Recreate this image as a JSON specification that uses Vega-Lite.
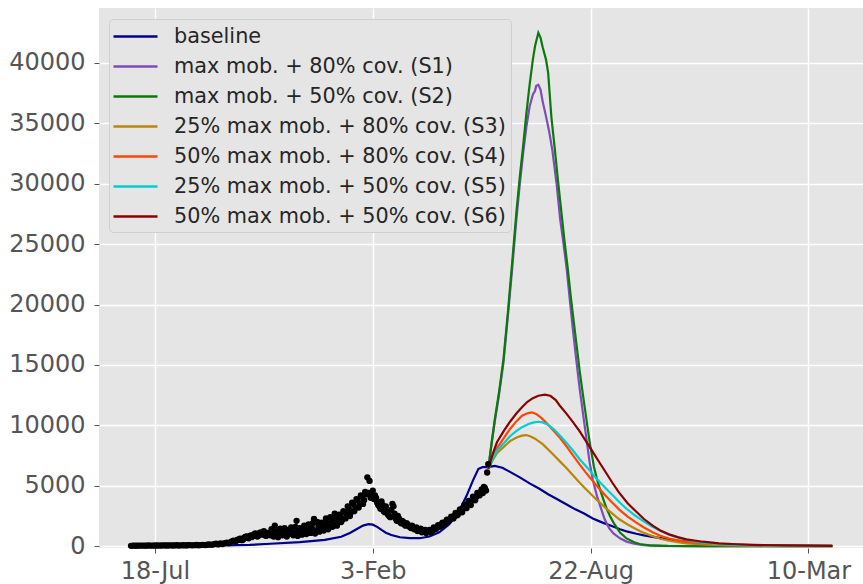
{
  "$schema": "https://vega.github.io/schema/vega-lite/v6.json",
  "width": 764,
  "height": 540,
  "autosize": {"type": "none"},
  "padding": {"left": 99, "top": 8, "right": 0, "bottom": 36},
  "background": "white",
  "config": {
    "view": {"fill": "#e5e5e5", "stroke": null},
    "axis": {
      "gridColor": "white", "gridWidth": 1.4, "domain": false,
      "tickColor": "#555555", "tickSize": 5, "tickWidth": 1,
      "labelColor": "#555555", "labelFont": "DejaVu Sans", "labelFontSize": 24
    }
  },
  "datasets": {
    "series": [
      {"d": "2020-06-26", "s": "baseline", "v": 10},
      {"d": "2020-07-18", "s": "baseline", "v": 15},
      {"d": "2020-08-15", "s": "baseline", "v": 25},
      {"d": "2020-09-10", "s": "baseline", "v": 50},
      {"d": "2020-10-01", "s": "baseline", "v": 80},
      {"d": "2020-10-13", "s": "baseline", "v": 110},
      {"d": "2020-11-01", "s": "baseline", "v": 200},
      {"d": "2020-11-28", "s": "baseline", "v": 340},
      {"d": "2020-12-21", "s": "baseline", "v": 520},
      {"d": "2021-01-05", "s": "baseline", "v": 780},
      {"d": "2021-01-13", "s": "baseline", "v": 1100},
      {"d": "2021-01-19", "s": "baseline", "v": 1400},
      {"d": "2021-01-25", "s": "baseline", "v": 1700},
      {"d": "2021-01-30", "s": "baseline", "v": 1820},
      {"d": "2021-02-03", "s": "baseline", "v": 1780},
      {"d": "2021-02-07", "s": "baseline", "v": 1600},
      {"d": "2021-02-11", "s": "baseline", "v": 1350},
      {"d": "2021-02-15", "s": "baseline", "v": 1120},
      {"d": "2021-02-20", "s": "baseline", "v": 920},
      {"d": "2021-02-28", "s": "baseline", "v": 740},
      {"d": "2021-03-09", "s": "baseline", "v": 660},
      {"d": "2021-03-18", "s": "baseline", "v": 660},
      {"d": "2021-03-27", "s": "baseline", "v": 800},
      {"d": "2021-04-05", "s": "baseline", "v": 1150},
      {"d": "2021-04-14", "s": "baseline", "v": 1800},
      {"d": "2021-04-19", "s": "baseline", "v": 2350},
      {"d": "2021-04-24", "s": "baseline", "v": 3050},
      {"d": "2021-04-30", "s": "baseline", "v": 4150},
      {"d": "2021-05-06", "s": "baseline", "v": 5450},
      {"d": "2021-05-11", "s": "baseline", "v": 6400},
      {"d": "2021-05-15", "s": "baseline", "v": 6550},
      {"d": "2021-05-20", "s": "baseline", "v": 6550},
      {"d": "2021-05-26", "s": "baseline", "v": 6650},
      {"d": "2021-06-02", "s": "baseline", "v": 6500},
      {"d": "2021-06-09", "s": "baseline", "v": 6150},
      {"d": "2021-06-18", "s": "baseline", "v": 5700},
      {"d": "2021-06-27", "s": "baseline", "v": 5200},
      {"d": "2021-07-06", "s": "baseline", "v": 4750},
      {"d": "2021-07-14", "s": "baseline", "v": 4300},
      {"d": "2021-07-22", "s": "baseline", "v": 3900},
      {"d": "2021-07-31", "s": "baseline", "v": 3450},
      {"d": "2021-08-08", "s": "baseline", "v": 3050},
      {"d": "2021-08-16", "s": "baseline", "v": 2700},
      {"d": "2021-08-24", "s": "baseline", "v": 2300},
      {"d": "2021-09-02", "s": "baseline", "v": 1950},
      {"d": "2021-09-11", "s": "baseline", "v": 1650},
      {"d": "2021-09-18", "s": "baseline", "v": 1400},
      {"d": "2021-09-25", "s": "baseline", "v": 1200},
      {"d": "2021-10-03", "s": "baseline", "v": 1030},
      {"d": "2021-10-10", "s": "baseline", "v": 900},
      {"d": "2021-10-18", "s": "baseline", "v": 770},
      {"d": "2021-10-25", "s": "baseline", "v": 670},
      {"d": "2021-11-02", "s": "baseline", "v": 560},
      {"d": "2021-11-10", "s": "baseline", "v": 460},
      {"d": "2021-11-18", "s": "baseline", "v": 380},
      {"d": "2021-12-03", "s": "baseline", "v": 260},
      {"d": "2021-12-18", "s": "baseline", "v": 180},
      {"d": "2022-01-03", "s": "baseline", "v": 120},
      {"d": "2022-01-18", "s": "baseline", "v": 90},
      {"d": "2022-02-18", "s": "baseline", "v": 50},
      {"d": "2022-04-01", "s": "baseline", "v": 30},

      {"d": "2021-05-20", "s": "max mob. + 80% cov. (S1)", "v": 6400},
      {"d": "2021-05-23", "s": "max mob. + 80% cov. (S1)", "v": 8400},
      {"d": "2021-05-26", "s": "max mob. + 80% cov. (S1)", "v": 10300},
      {"d": "2021-05-30", "s": "max mob. + 80% cov. (S1)", "v": 12600},
      {"d": "2021-06-03", "s": "max mob. + 80% cov. (S1)", "v": 15200},
      {"d": "2021-06-07", "s": "max mob. + 80% cov. (S1)", "v": 19000},
      {"d": "2021-06-11", "s": "max mob. + 80% cov. (S1)", "v": 23000},
      {"d": "2021-06-15", "s": "max mob. + 80% cov. (S1)", "v": 27200},
      {"d": "2021-06-18", "s": "max mob. + 80% cov. (S1)", "v": 30000},
      {"d": "2021-06-21", "s": "max mob. + 80% cov. (S1)", "v": 32500},
      {"d": "2021-06-24", "s": "max mob. + 80% cov. (S1)", "v": 34700},
      {"d": "2021-06-27", "s": "max mob. + 80% cov. (S1)", "v": 36400},
      {"d": "2021-06-30", "s": "max mob. + 80% cov. (S1)", "v": 37400},
      {"d": "2021-07-02", "s": "max mob. + 80% cov. (S1)", "v": 37700},
      {"d": "2021-07-03", "s": "max mob. + 80% cov. (S1)", "v": 38100},
      {"d": "2021-07-05", "s": "max mob. + 80% cov. (S1)", "v": 38200},
      {"d": "2021-07-07", "s": "max mob. + 80% cov. (S1)", "v": 37800},
      {"d": "2021-07-09", "s": "max mob. + 80% cov. (S1)", "v": 36800},
      {"d": "2021-07-12", "s": "max mob. + 80% cov. (S1)", "v": 35600},
      {"d": "2021-07-15", "s": "max mob. + 80% cov. (S1)", "v": 34300},
      {"d": "2021-07-18", "s": "max mob. + 80% cov. (S1)", "v": 32700},
      {"d": "2021-07-22", "s": "max mob. + 80% cov. (S1)", "v": 29800},
      {"d": "2021-07-25", "s": "max mob. + 80% cov. (S1)", "v": 27100},
      {"d": "2021-07-28", "s": "max mob. + 80% cov. (S1)", "v": 25100},
      {"d": "2021-07-31", "s": "max mob. + 80% cov. (S1)", "v": 23000},
      {"d": "2021-08-03", "s": "max mob. + 80% cov. (S1)", "v": 20300},
      {"d": "2021-08-06", "s": "max mob. + 80% cov. (S1)", "v": 17700},
      {"d": "2021-08-09", "s": "max mob. + 80% cov. (S1)", "v": 15300},
      {"d": "2021-08-12", "s": "max mob. + 80% cov. (S1)", "v": 13000},
      {"d": "2021-08-15", "s": "max mob. + 80% cov. (S1)", "v": 11000},
      {"d": "2021-08-18", "s": "max mob. + 80% cov. (S1)", "v": 9000},
      {"d": "2021-08-21", "s": "max mob. + 80% cov. (S1)", "v": 7000},
      {"d": "2021-08-24", "s": "max mob. + 80% cov. (S1)", "v": 5500},
      {"d": "2021-08-28", "s": "max mob. + 80% cov. (S1)", "v": 4100},
      {"d": "2021-09-01", "s": "max mob. + 80% cov. (S1)", "v": 3000},
      {"d": "2021-09-04", "s": "max mob. + 80% cov. (S1)", "v": 2200},
      {"d": "2021-09-08", "s": "max mob. + 80% cov. (S1)", "v": 1500},
      {"d": "2021-09-12", "s": "max mob. + 80% cov. (S1)", "v": 1050},
      {"d": "2021-09-18", "s": "max mob. + 80% cov. (S1)", "v": 650},
      {"d": "2021-09-24", "s": "max mob. + 80% cov. (S1)", "v": 380},
      {"d": "2021-10-01", "s": "max mob. + 80% cov. (S1)", "v": 200},
      {"d": "2021-10-10", "s": "max mob. + 80% cov. (S1)", "v": 80},
      {"d": "2021-10-25", "s": "max mob. + 80% cov. (S1)", "v": 25},
      {"d": "2021-12-01", "s": "max mob. + 80% cov. (S1)", "v": 5},
      {"d": "2022-04-01", "s": "max mob. + 80% cov. (S1)", "v": 0},

      {"d": "2021-05-20", "s": "max mob. + 50% cov. (S2)", "v": 6400},
      {"d": "2021-05-23", "s": "max mob. + 50% cov. (S2)", "v": 8500},
      {"d": "2021-05-26", "s": "max mob. + 50% cov. (S2)", "v": 10500},
      {"d": "2021-05-30", "s": "max mob. + 50% cov. (S2)", "v": 12800},
      {"d": "2021-06-03", "s": "max mob. + 50% cov. (S2)", "v": 15500},
      {"d": "2021-06-07", "s": "max mob. + 50% cov. (S2)", "v": 19300},
      {"d": "2021-06-11", "s": "max mob. + 50% cov. (S2)", "v": 23500},
      {"d": "2021-06-15", "s": "max mob. + 50% cov. (S2)", "v": 27800},
      {"d": "2021-06-18", "s": "max mob. + 50% cov. (S2)", "v": 30600},
      {"d": "2021-06-21", "s": "max mob. + 50% cov. (S2)", "v": 33100},
      {"d": "2021-06-24", "s": "max mob. + 50% cov. (S2)", "v": 35800},
      {"d": "2021-06-27", "s": "max mob. + 50% cov. (S2)", "v": 38200},
      {"d": "2021-06-30", "s": "max mob. + 50% cov. (S2)", "v": 40300},
      {"d": "2021-07-02", "s": "max mob. + 50% cov. (S2)", "v": 41400},
      {"d": "2021-07-05", "s": "max mob. + 50% cov. (S2)", "v": 42500},
      {"d": "2021-07-07", "s": "max mob. + 50% cov. (S2)", "v": 42100},
      {"d": "2021-07-09", "s": "max mob. + 50% cov. (S2)", "v": 41300},
      {"d": "2021-07-12", "s": "max mob. + 50% cov. (S2)", "v": 40300},
      {"d": "2021-07-14", "s": "max mob. + 50% cov. (S2)", "v": 39200},
      {"d": "2021-07-17", "s": "max mob. + 50% cov. (S2)", "v": 35500},
      {"d": "2021-07-20", "s": "max mob. + 50% cov. (S2)", "v": 33000},
      {"d": "2021-07-23", "s": "max mob. + 50% cov. (S2)", "v": 30300},
      {"d": "2021-07-26", "s": "max mob. + 50% cov. (S2)", "v": 27800},
      {"d": "2021-07-29", "s": "max mob. + 50% cov. (S2)", "v": 25300},
      {"d": "2021-08-01", "s": "max mob. + 50% cov. (S2)", "v": 23000},
      {"d": "2021-08-04", "s": "max mob. + 50% cov. (S2)", "v": 20500},
      {"d": "2021-08-08", "s": "max mob. + 50% cov. (S2)", "v": 17500},
      {"d": "2021-08-12", "s": "max mob. + 50% cov. (S2)", "v": 14500},
      {"d": "2021-08-15", "s": "max mob. + 50% cov. (S2)", "v": 12500},
      {"d": "2021-08-18", "s": "max mob. + 50% cov. (S2)", "v": 10600},
      {"d": "2021-08-21", "s": "max mob. + 50% cov. (S2)", "v": 8700},
      {"d": "2021-08-25", "s": "max mob. + 50% cov. (S2)", "v": 6600},
      {"d": "2021-08-28", "s": "max mob. + 50% cov. (S2)", "v": 5500},
      {"d": "2021-08-31", "s": "max mob. + 50% cov. (S2)", "v": 4600},
      {"d": "2021-09-03", "s": "max mob. + 50% cov. (S2)", "v": 3800},
      {"d": "2021-09-06", "s": "max mob. + 50% cov. (S2)", "v": 3050},
      {"d": "2021-09-09", "s": "max mob. + 50% cov. (S2)", "v": 2450},
      {"d": "2021-09-12", "s": "max mob. + 50% cov. (S2)", "v": 1950},
      {"d": "2021-09-18", "s": "max mob. + 50% cov. (S2)", "v": 1130},
      {"d": "2021-09-24", "s": "max mob. + 50% cov. (S2)", "v": 640},
      {"d": "2021-10-01", "s": "max mob. + 50% cov. (S2)", "v": 320},
      {"d": "2021-10-06", "s": "max mob. + 50% cov. (S2)", "v": 180},
      {"d": "2021-10-15", "s": "max mob. + 50% cov. (S2)", "v": 70},
      {"d": "2021-11-01", "s": "max mob. + 50% cov. (S2)", "v": 20},
      {"d": "2021-12-01", "s": "max mob. + 50% cov. (S2)", "v": 5},
      {"d": "2022-04-01", "s": "max mob. + 50% cov. (S2)", "v": 0},

      {"d": "2021-05-20", "s": "25% max mob. + 80% cov. (S3)", "v": 6400},
      {"d": "2021-05-24", "s": "25% max mob. + 80% cov. (S3)", "v": 7100},
      {"d": "2021-05-28", "s": "25% max mob. + 80% cov. (S3)", "v": 7700},
      {"d": "2021-06-03", "s": "25% max mob. + 80% cov. (S3)", "v": 8200},
      {"d": "2021-06-09", "s": "25% max mob. + 80% cov. (S3)", "v": 8700},
      {"d": "2021-06-15", "s": "25% max mob. + 80% cov. (S3)", "v": 9000},
      {"d": "2021-06-20", "s": "25% max mob. + 80% cov. (S3)", "v": 9150},
      {"d": "2021-06-24", "s": "25% max mob. + 80% cov. (S3)", "v": 9200},
      {"d": "2021-06-28", "s": "25% max mob. + 80% cov. (S3)", "v": 9080},
      {"d": "2021-07-02", "s": "25% max mob. + 80% cov. (S3)", "v": 8900},
      {"d": "2021-07-09", "s": "25% max mob. + 80% cov. (S3)", "v": 8450},
      {"d": "2021-07-18", "s": "25% max mob. + 80% cov. (S3)", "v": 7650},
      {"d": "2021-07-25", "s": "25% max mob. + 80% cov. (S3)", "v": 7000},
      {"d": "2021-07-31", "s": "25% max mob. + 80% cov. (S3)", "v": 6450},
      {"d": "2021-08-06", "s": "25% max mob. + 80% cov. (S3)", "v": 5850},
      {"d": "2021-08-12", "s": "25% max mob. + 80% cov. (S3)", "v": 5250},
      {"d": "2021-08-18", "s": "25% max mob. + 80% cov. (S3)", "v": 4700},
      {"d": "2021-08-24", "s": "25% max mob. + 80% cov. (S3)", "v": 4150},
      {"d": "2021-08-30", "s": "25% max mob. + 80% cov. (S3)", "v": 3650},
      {"d": "2021-09-05", "s": "25% max mob. + 80% cov. (S3)", "v": 3150},
      {"d": "2021-09-11", "s": "25% max mob. + 80% cov. (S3)", "v": 2700},
      {"d": "2021-09-17", "s": "25% max mob. + 80% cov. (S3)", "v": 2250},
      {"d": "2021-09-25", "s": "25% max mob. + 80% cov. (S3)", "v": 1800},
      {"d": "2021-10-03", "s": "25% max mob. + 80% cov. (S3)", "v": 1400},
      {"d": "2021-10-10", "s": "25% max mob. + 80% cov. (S3)", "v": 1100},
      {"d": "2021-10-18", "s": "25% max mob. + 80% cov. (S3)", "v": 830},
      {"d": "2021-10-25", "s": "25% max mob. + 80% cov. (S3)", "v": 620},
      {"d": "2021-11-02", "s": "25% max mob. + 80% cov. (S3)", "v": 450},
      {"d": "2021-11-10", "s": "25% max mob. + 80% cov. (S3)", "v": 330},
      {"d": "2021-11-18", "s": "25% max mob. + 80% cov. (S3)", "v": 240},
      {"d": "2021-12-03", "s": "25% max mob. + 80% cov. (S3)", "v": 140},
      {"d": "2021-12-18", "s": "25% max mob. + 80% cov. (S3)", "v": 80},
      {"d": "2022-01-15", "s": "25% max mob. + 80% cov. (S3)", "v": 30},
      {"d": "2022-02-15", "s": "25% max mob. + 80% cov. (S3)", "v": 12},
      {"d": "2022-04-01", "s": "25% max mob. + 80% cov. (S3)", "v": 5},

      {"d": "2021-05-20", "s": "50% max mob. + 80% cov. (S4)", "v": 6400},
      {"d": "2021-05-24", "s": "50% max mob. + 80% cov. (S4)", "v": 7300},
      {"d": "2021-05-28", "s": "50% max mob. + 80% cov. (S4)", "v": 8100},
      {"d": "2021-06-03", "s": "50% max mob. + 80% cov. (S4)", "v": 8900},
      {"d": "2021-06-09", "s": "50% max mob. + 80% cov. (S4)", "v": 9700},
      {"d": "2021-06-15", "s": "50% max mob. + 80% cov. (S4)", "v": 10350},
      {"d": "2021-06-20", "s": "50% max mob. + 80% cov. (S4)", "v": 10800},
      {"d": "2021-06-25", "s": "50% max mob. + 80% cov. (S4)", "v": 11000},
      {"d": "2021-06-29", "s": "50% max mob. + 80% cov. (S4)", "v": 11080},
      {"d": "2021-07-03", "s": "50% max mob. + 80% cov. (S4)", "v": 10950},
      {"d": "2021-07-08", "s": "50% max mob. + 80% cov. (S4)", "v": 10600},
      {"d": "2021-07-13", "s": "50% max mob. + 80% cov. (S4)", "v": 10150},
      {"d": "2021-07-18", "s": "50% max mob. + 80% cov. (S4)", "v": 9650},
      {"d": "2021-07-25", "s": "50% max mob. + 80% cov. (S4)", "v": 8950},
      {"d": "2021-07-31", "s": "50% max mob. + 80% cov. (S4)", "v": 8250},
      {"d": "2021-08-06", "s": "50% max mob. + 80% cov. (S4)", "v": 7500},
      {"d": "2021-08-12", "s": "50% max mob. + 80% cov. (S4)", "v": 6750},
      {"d": "2021-08-18", "s": "50% max mob. + 80% cov. (S4)", "v": 6050},
      {"d": "2021-08-24", "s": "50% max mob. + 80% cov. (S4)", "v": 5400},
      {"d": "2021-08-30", "s": "50% max mob. + 80% cov. (S4)", "v": 4750},
      {"d": "2021-09-05", "s": "50% max mob. + 80% cov. (S4)", "v": 4150},
      {"d": "2021-09-11", "s": "50% max mob. + 80% cov. (S4)", "v": 3600},
      {"d": "2021-09-17", "s": "50% max mob. + 80% cov. (S4)", "v": 3050},
      {"d": "2021-09-25", "s": "50% max mob. + 80% cov. (S4)", "v": 2450},
      {"d": "2021-10-03", "s": "50% max mob. + 80% cov. (S4)", "v": 1950},
      {"d": "2021-10-10", "s": "50% max mob. + 80% cov. (S4)", "v": 1550},
      {"d": "2021-10-18", "s": "50% max mob. + 80% cov. (S4)", "v": 1150},
      {"d": "2021-10-25", "s": "50% max mob. + 80% cov. (S4)", "v": 870},
      {"d": "2021-11-02", "s": "50% max mob. + 80% cov. (S4)", "v": 640},
      {"d": "2021-11-10", "s": "50% max mob. + 80% cov. (S4)", "v": 480},
      {"d": "2021-11-18", "s": "50% max mob. + 80% cov. (S4)", "v": 360},
      {"d": "2021-12-03", "s": "50% max mob. + 80% cov. (S4)", "v": 230},
      {"d": "2021-12-18", "s": "50% max mob. + 80% cov. (S4)", "v": 160},
      {"d": "2022-01-18", "s": "50% max mob. + 80% cov. (S4)", "v": 90},
      {"d": "2022-02-18", "s": "50% max mob. + 80% cov. (S4)", "v": 55},
      {"d": "2022-04-01", "s": "50% max mob. + 80% cov. (S4)", "v": 30},

      {"d": "2021-05-20", "s": "25% max mob. + 50% cov. (S5)", "v": 6400},
      {"d": "2021-05-24", "s": "25% max mob. + 50% cov. (S5)", "v": 7200},
      {"d": "2021-05-28", "s": "25% max mob. + 50% cov. (S5)", "v": 7900},
      {"d": "2021-06-03", "s": "25% max mob. + 50% cov. (S5)", "v": 8500},
      {"d": "2021-06-09", "s": "25% max mob. + 50% cov. (S5)", "v": 9100},
      {"d": "2021-06-15", "s": "25% max mob. + 50% cov. (S5)", "v": 9550},
      {"d": "2021-06-20", "s": "25% max mob. + 50% cov. (S5)", "v": 9850},
      {"d": "2021-06-27", "s": "25% max mob. + 50% cov. (S5)", "v": 10150},
      {"d": "2021-07-01", "s": "25% max mob. + 50% cov. (S5)", "v": 10250},
      {"d": "2021-07-05", "s": "25% max mob. + 50% cov. (S5)", "v": 10300},
      {"d": "2021-07-09", "s": "25% max mob. + 50% cov. (S5)", "v": 10250},
      {"d": "2021-07-13", "s": "25% max mob. + 50% cov. (S5)", "v": 10100},
      {"d": "2021-07-19", "s": "25% max mob. + 50% cov. (S5)", "v": 9700},
      {"d": "2021-07-25", "s": "25% max mob. + 50% cov. (S5)", "v": 9150},
      {"d": "2021-07-31", "s": "25% max mob. + 50% cov. (S5)", "v": 8550},
      {"d": "2021-08-06", "s": "25% max mob. + 50% cov. (S5)", "v": 7900},
      {"d": "2021-08-12", "s": "25% max mob. + 50% cov. (S5)", "v": 7200},
      {"d": "2021-08-19", "s": "25% max mob. + 50% cov. (S5)", "v": 6500},
      {"d": "2021-08-25", "s": "25% max mob. + 50% cov. (S5)", "v": 5850},
      {"d": "2021-08-31", "s": "25% max mob. + 50% cov. (S5)", "v": 5250},
      {"d": "2021-09-06", "s": "25% max mob. + 50% cov. (S5)", "v": 4700},
      {"d": "2021-09-12", "s": "25% max mob. + 50% cov. (S5)", "v": 4150},
      {"d": "2021-09-18", "s": "25% max mob. + 50% cov. (S5)", "v": 3600},
      {"d": "2021-09-24", "s": "25% max mob. + 50% cov. (S5)", "v": 3100},
      {"d": "2021-10-01", "s": "25% max mob. + 50% cov. (S5)", "v": 2600},
      {"d": "2021-10-09", "s": "25% max mob. + 50% cov. (S5)", "v": 2100},
      {"d": "2021-10-17", "s": "25% max mob. + 50% cov. (S5)", "v": 1650},
      {"d": "2021-10-25", "s": "25% max mob. + 50% cov. (S5)", "v": 1270},
      {"d": "2021-11-02", "s": "25% max mob. + 50% cov. (S5)", "v": 960},
      {"d": "2021-11-10", "s": "25% max mob. + 50% cov. (S5)", "v": 720},
      {"d": "2021-11-18", "s": "25% max mob. + 50% cov. (S5)", "v": 530},
      {"d": "2021-11-25", "s": "25% max mob. + 50% cov. (S5)", "v": 400},
      {"d": "2021-12-03", "s": "25% max mob. + 50% cov. (S5)", "v": 300},
      {"d": "2021-12-18", "s": "25% max mob. + 50% cov. (S5)", "v": 170},
      {"d": "2022-01-03", "s": "25% max mob. + 50% cov. (S5)", "v": 110},
      {"d": "2022-01-18", "s": "25% max mob. + 50% cov. (S5)", "v": 75},
      {"d": "2022-02-18", "s": "25% max mob. + 50% cov. (S5)", "v": 40},
      {"d": "2022-04-01", "s": "25% max mob. + 50% cov. (S5)", "v": 20},

      {"d": "2021-05-20", "s": "50% max mob. + 50% cov. (S6)", "v": 6400},
      {"d": "2021-05-24", "s": "50% max mob. + 50% cov. (S6)", "v": 7600},
      {"d": "2021-05-28", "s": "50% max mob. + 50% cov. (S6)", "v": 8600},
      {"d": "2021-06-03", "s": "50% max mob. + 50% cov. (S6)", "v": 9500},
      {"d": "2021-06-09", "s": "50% max mob. + 50% cov. (S6)", "v": 10300},
      {"d": "2021-06-15", "s": "50% max mob. + 50% cov. (S6)", "v": 11000},
      {"d": "2021-06-20", "s": "50% max mob. + 50% cov. (S6)", "v": 11500},
      {"d": "2021-06-25", "s": "50% max mob. + 50% cov. (S6)", "v": 11950},
      {"d": "2021-06-30", "s": "50% max mob. + 50% cov. (S6)", "v": 12250},
      {"d": "2021-07-05", "s": "50% max mob. + 50% cov. (S6)", "v": 12450},
      {"d": "2021-07-11", "s": "50% max mob. + 50% cov. (S6)", "v": 12550},
      {"d": "2021-07-16", "s": "50% max mob. + 50% cov. (S6)", "v": 12450},
      {"d": "2021-07-21", "s": "50% max mob. + 50% cov. (S6)", "v": 12100},
      {"d": "2021-07-25", "s": "50% max mob. + 50% cov. (S6)", "v": 11600},
      {"d": "2021-07-31", "s": "50% max mob. + 50% cov. (S6)", "v": 10950},
      {"d": "2021-08-06", "s": "50% max mob. + 50% cov. (S6)", "v": 10250},
      {"d": "2021-08-12", "s": "50% max mob. + 50% cov. (S6)", "v": 9500},
      {"d": "2021-08-18", "s": "50% max mob. + 50% cov. (S6)", "v": 8650},
      {"d": "2021-08-24", "s": "50% max mob. + 50% cov. (S6)", "v": 7800},
      {"d": "2021-08-30", "s": "50% max mob. + 50% cov. (S6)", "v": 6950},
      {"d": "2021-09-05", "s": "50% max mob. + 50% cov. (S6)", "v": 6100},
      {"d": "2021-09-11", "s": "50% max mob. + 50% cov. (S6)", "v": 5250},
      {"d": "2021-09-17", "s": "50% max mob. + 50% cov. (S6)", "v": 4450},
      {"d": "2021-09-25", "s": "50% max mob. + 50% cov. (S6)", "v": 3550},
      {"d": "2021-10-03", "s": "50% max mob. + 50% cov. (S6)", "v": 2850},
      {"d": "2021-10-10", "s": "50% max mob. + 50% cov. (S6)", "v": 2250},
      {"d": "2021-10-18", "s": "50% max mob. + 50% cov. (S6)", "v": 1700},
      {"d": "2021-10-25", "s": "50% max mob. + 50% cov. (S6)", "v": 1300},
      {"d": "2021-11-02", "s": "50% max mob. + 50% cov. (S6)", "v": 980},
      {"d": "2021-11-10", "s": "50% max mob. + 50% cov. (S6)", "v": 750},
      {"d": "2021-11-18", "s": "50% max mob. + 50% cov. (S6)", "v": 570},
      {"d": "2021-12-03", "s": "50% max mob. + 50% cov. (S6)", "v": 370},
      {"d": "2021-12-18", "s": "50% max mob. + 50% cov. (S6)", "v": 240},
      {"d": "2022-01-03", "s": "50% max mob. + 50% cov. (S6)", "v": 160},
      {"d": "2022-01-18", "s": "50% max mob. + 50% cov. (S6)", "v": 110},
      {"d": "2022-02-18", "s": "50% max mob. + 50% cov. (S6)", "v": 65},
      {"d": "2022-04-01", "s": "50% max mob. + 50% cov. (S6)", "v": 25}
    ],
    "cases": [
      {"d": "2020-06-26", "v": 30}, {"d": "2020-06-28", "v": 40}, {"d": "2020-06-30", "v": 35},
      {"d": "2020-07-02", "v": 45}, {"d": "2020-07-04", "v": 40}, {"d": "2020-07-06", "v": 50},
      {"d": "2020-07-08", "v": 45}, {"d": "2020-07-10", "v": 40}, {"d": "2020-07-12", "v": 55},
      {"d": "2020-07-14", "v": 50}, {"d": "2020-07-16", "v": 45}, {"d": "2020-07-18", "v": 60},
      {"d": "2020-07-20", "v": 55}, {"d": "2020-07-22", "v": 50}, {"d": "2020-07-24", "v": 60},
      {"d": "2020-07-26", "v": 65}, {"d": "2020-07-28", "v": 55}, {"d": "2020-07-30", "v": 60},
      {"d": "2020-08-01", "v": 70}, {"d": "2020-08-03", "v": 60}, {"d": "2020-08-05", "v": 65},
      {"d": "2020-08-07", "v": 75}, {"d": "2020-08-09", "v": 60}, {"d": "2020-08-11", "v": 70},
      {"d": "2020-08-13", "v": 80}, {"d": "2020-08-15", "v": 65}, {"d": "2020-08-17", "v": 75},
      {"d": "2020-08-19", "v": 90}, {"d": "2020-08-21", "v": 70}, {"d": "2020-08-23", "v": 85},
      {"d": "2020-08-25", "v": 100}, {"d": "2020-08-27", "v": 80}, {"d": "2020-08-29", "v": 95},
      {"d": "2020-08-31", "v": 110}, {"d": "2020-09-02", "v": 90}, {"d": "2020-09-04", "v": 120},
      {"d": "2020-09-06", "v": 140}, {"d": "2020-09-08", "v": 110}, {"d": "2020-09-10", "v": 160},
      {"d": "2020-09-12", "v": 200}, {"d": "2020-09-14", "v": 150}, {"d": "2020-09-16", "v": 220},
      {"d": "2020-09-18", "v": 180}, {"d": "2020-09-20", "v": 260}, {"d": "2020-09-22", "v": 300},
      {"d": "2020-09-24", "v": 250}, {"d": "2020-09-26", "v": 380}, {"d": "2020-09-28", "v": 450},
      {"d": "2020-09-30", "v": 400}, {"d": "2020-10-02", "v": 550}, {"d": "2020-10-04", "v": 620},
      {"d": "2020-10-06", "v": 500}, {"d": "2020-10-08", "v": 700}, {"d": "2020-10-10", "v": 800},
      {"d": "2020-10-12", "v": 650}, {"d": "2020-10-14", "v": 900}, {"d": "2020-10-16", "v": 850},
      {"d": "2020-10-18", "v": 1050}, {"d": "2020-10-20", "v": 800}, {"d": "2020-10-22", "v": 1100},
      {"d": "2020-10-24", "v": 950}, {"d": "2020-10-26", "v": 1250}, {"d": "2020-10-28", "v": 850},
      {"d": "2020-10-30", "v": 1000}, {"d": "2020-11-01", "v": 900}, {"d": "2020-11-03", "v": 1150},
      {"d": "2020-11-05", "v": 1700}, {"d": "2020-11-07", "v": 950}, {"d": "2020-11-09", "v": 1100},
      {"d": "2020-11-11", "v": 1000}, {"d": "2020-11-13", "v": 1200}, {"d": "2020-11-15", "v": 900},
      {"d": "2020-11-17", "v": 1050}, {"d": "2020-11-19", "v": 1250}, {"d": "2020-11-21", "v": 1000},
      {"d": "2020-11-23", "v": 1150}, {"d": "2020-11-25", "v": 2100}, {"d": "2020-11-27", "v": 1300},
      {"d": "2020-11-29", "v": 1050}, {"d": "2020-12-01", "v": 1250}, {"d": "2020-12-03", "v": 1400},
      {"d": "2020-12-05", "v": 1150}, {"d": "2020-12-07", "v": 1350}, {"d": "2020-12-09", "v": 1500},
      {"d": "2020-12-11", "v": 2250}, {"d": "2020-12-13", "v": 1250}, {"d": "2020-12-15", "v": 1600},
      {"d": "2020-12-17", "v": 1400}, {"d": "2020-12-19", "v": 1700}, {"d": "2020-12-21", "v": 1500},
      {"d": "2020-12-23", "v": 1900}, {"d": "2020-12-25", "v": 1600}, {"d": "2020-12-27", "v": 2100},
      {"d": "2020-12-29", "v": 1800}, {"d": "2020-12-31", "v": 2300}, {"d": "2021-01-02", "v": 2000},
      {"d": "2021-01-04", "v": 2500}, {"d": "2021-01-06", "v": 2200}, {"d": "2021-01-08", "v": 2800},
      {"d": "2021-01-10", "v": 2600}, {"d": "2021-01-12", "v": 3100}, {"d": "2021-01-14", "v": 2800},
      {"d": "2021-01-16", "v": 3500}, {"d": "2021-01-18", "v": 3200}, {"d": "2021-01-20", "v": 3800},
      {"d": "2021-01-22", "v": 3500}, {"d": "2021-01-24", "v": 4100}, {"d": "2021-01-26", "v": 3800},
      {"d": "2021-01-28", "v": 4300}, {"d": "2021-01-29", "v": 5700}, {"d": "2021-01-31", "v": 5400},
      {"d": "2021-02-01", "v": 4000}, {"d": "2021-02-03", "v": 4600}, {"d": "2021-02-05", "v": 4200},
      {"d": "2021-02-07", "v": 3600}, {"d": "2021-02-09", "v": 3300}, {"d": "2021-02-11", "v": 3700},
      {"d": "2021-02-13", "v": 2900}, {"d": "2021-02-15", "v": 3300}, {"d": "2021-02-17", "v": 2600},
      {"d": "2021-02-19", "v": 2400}, {"d": "2021-02-21", "v": 3500}, {"d": "2021-02-23", "v": 2700},
      {"d": "2021-02-25", "v": 2100}, {"d": "2021-02-27", "v": 2300}, {"d": "2021-03-01", "v": 1900},
      {"d": "2021-03-03", "v": 2000}, {"d": "2021-03-05", "v": 1700}, {"d": "2021-03-07", "v": 1800},
      {"d": "2021-03-09", "v": 1600}, {"d": "2021-03-11", "v": 1700}, {"d": "2021-03-13", "v": 1400},
      {"d": "2021-03-15", "v": 1550}, {"d": "2021-03-17", "v": 1300}, {"d": "2021-03-19", "v": 1450},
      {"d": "2021-03-21", "v": 1200}, {"d": "2021-03-23", "v": 1350}, {"d": "2021-03-25", "v": 1150},
      {"d": "2021-03-27", "v": 1350}, {"d": "2021-03-29", "v": 1250}, {"d": "2021-03-31", "v": 1550},
      {"d": "2021-04-02", "v": 1450}, {"d": "2021-04-04", "v": 1750}, {"d": "2021-04-06", "v": 1650},
      {"d": "2021-04-08", "v": 1950}, {"d": "2021-04-10", "v": 1850}, {"d": "2021-04-12", "v": 2200},
      {"d": "2021-04-14", "v": 2100}, {"d": "2021-04-16", "v": 2450}, {"d": "2021-04-18", "v": 2300},
      {"d": "2021-04-20", "v": 2750}, {"d": "2021-04-22", "v": 2600}, {"d": "2021-04-24", "v": 3050},
      {"d": "2021-04-26", "v": 2800}, {"d": "2021-04-28", "v": 3400}, {"d": "2021-04-30", "v": 3150},
      {"d": "2021-05-02", "v": 3750}, {"d": "2021-05-04", "v": 3400}, {"d": "2021-05-06", "v": 4100},
      {"d": "2021-05-08", "v": 3800}, {"d": "2021-05-10", "v": 4400}, {"d": "2021-05-12", "v": 4200},
      {"d": "2021-05-14", "v": 4700}, {"d": "2021-05-16", "v": 4900}, {"d": "2021-05-18", "v": 4600},
      {"d": "2021-05-19", "v": 6100}, {"d": "2021-05-20", "v": 6800},
      {"d": "2020-10-01", "v": 480}, {"d": "2020-10-03", "v": 520}, {"d": "2020-10-05", "v": 600},
      {"d": "2020-10-07", "v": 560}, {"d": "2020-10-09", "v": 760}, {"d": "2020-10-11", "v": 700},
      {"d": "2020-10-13", "v": 820}, {"d": "2020-10-15", "v": 760}, {"d": "2020-10-17", "v": 980},
      {"d": "2020-10-19", "v": 900}, {"d": "2020-10-21", "v": 870}, {"d": "2020-10-23", "v": 1150},
      {"d": "2020-10-25", "v": 1000}, {"d": "2020-10-27", "v": 900}, {"d": "2020-10-29", "v": 1100},
      {"d": "2020-10-31", "v": 950}, {"d": "2020-11-02", "v": 1400}, {"d": "2020-11-04", "v": 800},
      {"d": "2020-11-06", "v": 1250}, {"d": "2020-11-08", "v": 750}, {"d": "2020-11-10", "v": 1450},
      {"d": "2020-11-12", "v": 900}, {"d": "2020-11-14", "v": 1500}, {"d": "2020-11-16", "v": 800},
      {"d": "2020-11-18", "v": 1350}, {"d": "2020-11-20", "v": 1550}, {"d": "2020-11-22", "v": 900},
      {"d": "2020-11-24", "v": 1600}, {"d": "2020-11-26", "v": 850}, {"d": "2020-11-28", "v": 1500},
      {"d": "2020-11-30", "v": 950}, {"d": "2020-12-02", "v": 1700}, {"d": "2020-12-04", "v": 1000},
      {"d": "2020-12-06", "v": 1800}, {"d": "2020-12-08", "v": 1100}, {"d": "2020-12-10", "v": 1900},
      {"d": "2020-12-12", "v": 1050}, {"d": "2020-12-14", "v": 2000}, {"d": "2020-12-16", "v": 1200},
      {"d": "2020-12-18", "v": 1950}, {"d": "2020-12-20", "v": 1300}, {"d": "2020-12-22", "v": 2300},
      {"d": "2020-12-24", "v": 1400}, {"d": "2020-12-26", "v": 2400}, {"d": "2020-12-28", "v": 1600},
      {"d": "2020-12-30", "v": 2700}, {"d": "2021-01-01", "v": 1700}, {"d": "2021-01-03", "v": 2600},
      {"d": "2021-01-05", "v": 2000}, {"d": "2021-01-07", "v": 2900}, {"d": "2021-01-09", "v": 2300},
      {"d": "2021-01-11", "v": 3300}, {"d": "2021-01-13", "v": 2500}, {"d": "2021-01-15", "v": 3600},
      {"d": "2021-01-17", "v": 2900}, {"d": "2021-01-19", "v": 3900}, {"d": "2021-01-21", "v": 3200},
      {"d": "2021-01-23", "v": 4200}, {"d": "2021-01-25", "v": 3500}, {"d": "2021-01-27", "v": 4500},
      {"d": "2021-01-30", "v": 4400}, {"d": "2021-02-02", "v": 4300}, {"d": "2021-02-04", "v": 3900},
      {"d": "2021-02-06", "v": 4000}, {"d": "2021-02-08", "v": 3400}, {"d": "2021-02-10", "v": 3100},
      {"d": "2021-02-12", "v": 3400}, {"d": "2021-02-14", "v": 2800}, {"d": "2021-02-16", "v": 2900},
      {"d": "2021-02-18", "v": 2500}, {"d": "2021-02-20", "v": 3000}, {"d": "2021-02-22", "v": 3300},
      {"d": "2021-02-24", "v": 2300}, {"d": "2021-02-26", "v": 2500}, {"d": "2021-02-28", "v": 2000},
      {"d": "2021-03-02", "v": 2100}, {"d": "2021-03-04", "v": 1800}, {"d": "2021-03-06", "v": 1900},
      {"d": "2021-03-08", "v": 1650}, {"d": "2021-03-10", "v": 1500}, {"d": "2021-03-12", "v": 1550},
      {"d": "2021-03-14", "v": 1450}, {"d": "2021-03-16", "v": 1250}, {"d": "2021-03-18", "v": 1350},
      {"d": "2021-03-20", "v": 1150}, {"d": "2021-03-22", "v": 1250}, {"d": "2021-03-24", "v": 1100},
      {"d": "2021-03-26", "v": 1200}, {"d": "2021-03-28", "v": 1150}, {"d": "2021-03-30", "v": 1300},
      {"d": "2021-04-01", "v": 1400}, {"d": "2021-04-03", "v": 1550}, {"d": "2021-04-05", "v": 1600},
      {"d": "2021-04-07", "v": 1800}, {"d": "2021-04-09", "v": 1750}, {"d": "2021-04-11", "v": 2000},
      {"d": "2021-04-13", "v": 2050}, {"d": "2021-04-15", "v": 2250}, {"d": "2021-04-17", "v": 2400},
      {"d": "2021-04-19", "v": 2500}, {"d": "2021-04-21", "v": 2550}, {"d": "2021-04-23", "v": 2800},
      {"d": "2021-04-25", "v": 2950}, {"d": "2021-04-27", "v": 3100}, {"d": "2021-04-29", "v": 3300},
      {"d": "2021-05-01", "v": 3500}, {"d": "2021-05-03", "v": 3600}, {"d": "2021-05-05", "v": 3800},
      {"d": "2021-05-07", "v": 3900}, {"d": "2021-05-09", "v": 4100}, {"d": "2021-05-11", "v": 4250},
      {"d": "2021-05-13", "v": 4500}, {"d": "2021-05-15", "v": 4400}, {"d": "2021-05-17", "v": 4800}
    ]
  },
  "layer": [
    {
      "data": {"name": "series"},
      "mark": {"type": "line", "strokeWidth": 2.2},
      "encoding": {
        "x": {
          "field": "d", "type": "temporal", "title": null,
          "scale": {"type": "utc", "domain": [{"year": 2020, "month": 5, "date": 27, "hours": 14, "utc": true}, {"year": 2022, "month": 4, "date": 29, "hours": 3, "utc": true}]},
          "axis": {
            "values": [{"year": 2020, "month": 7, "date": 18, "utc": true}, {"year": 2021, "month": 2, "date": 3, "utc": true}, {"year": 2021, "month": 8, "date": 22, "utc": true}, {"year": 2022, "month": 3, "date": 10, "utc": true}],
            "format": "%-d-%b", "labelPadding": 6, "labelFlush": false
          }
        },
        "y": {
          "field": "v", "type": "quantitative", "title": null,
          "scale": {"domain": [-150, 44550], "nice": false, "zero": false},
          "axis": {"values": [0, 5000, 10000, 15000, 20000, 25000, 30000, 35000, 40000], "format": "d", "labelPadding": 9}
        },
        "color": {
          "field": "s", "type": "nominal",
          "scale": {
            "domain": ["baseline", "max mob. + 80% cov. (S1)", "max mob. + 50% cov. (S2)", "25% max mob. + 80% cov. (S3)", "50% max mob. + 80% cov. (S4)", "25% max mob. + 50% cov. (S5)", "50% max mob. + 50% cov. (S6)"],
            "range": ["#00008b", "#7d4cb8", "#0a7a0a", "#b8860b", "#ff4500", "#00ced1", "#8b0000"]
          },
          "legend": {
            "orient": "none", "legendX": 10, "legendY": 11, "title": null,
            "symbolType": "M-2,0H2", "symbolSize": 484, "symbolStrokeWidth": 2.5, "symbolOffset": 9,
            "labelOffset": 26, "labelFont": "DejaVu Sans", "labelFontSize": 20.8, "labelColor": "#262626", "labelLimit": 0,
            "padding": 5, "rowPadding": 7, "fillColor": "#e5e5e5", "strokeColor": "#cfcfcf", "cornerRadius": 4
          }
        }
      }
    },
    {
      "data": {"name": "cases"},
      "mark": {"type": "point", "filled": true, "color": "black", "size": 40, "opacity": 1},
      "encoding": {
        "x": {"field": "d", "type": "temporal"},
        "y": {"field": "v", "type": "quantitative"}
      }
    }
  ]
}
